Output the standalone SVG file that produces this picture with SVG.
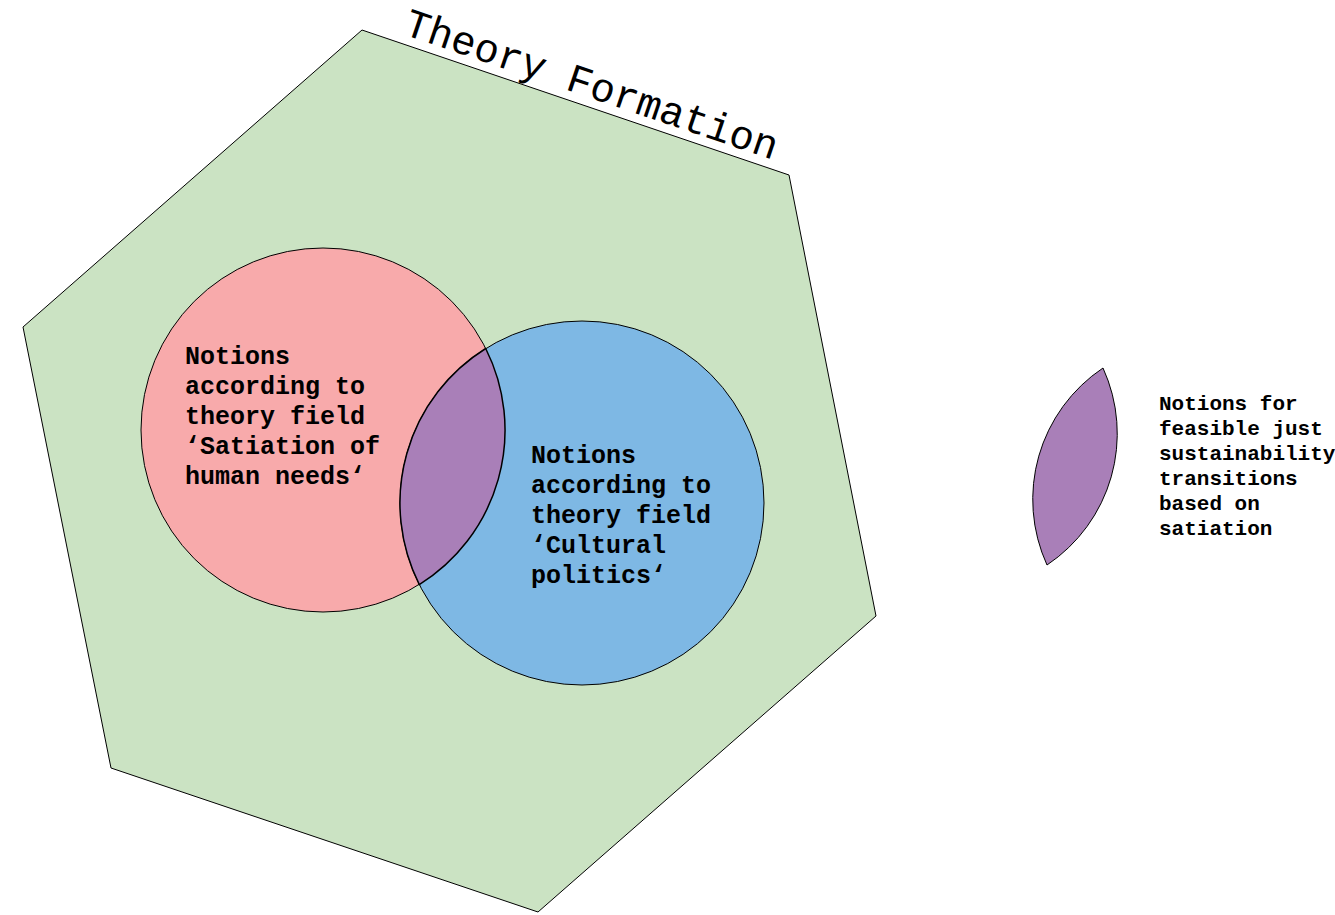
<svg xmlns="http://www.w3.org/2000/svg" width="1335" height="915" viewBox="0 0 1335 915">
<style>
.sh{stroke:#000;stroke-width:1}
.t{font-family:"Liberation Mono","Courier New",monospace;font-weight:bold;fill:#000}
</style>
<rect width="1335" height="915" fill="#fff"/>
<g id="theory-formation">
<polygon class="sh" fill="#CBE3C3" points="362,30 789,175 876,616 538,912 111,768 23,327"/>
<text x="402" y="34" font-family="Liberation Mono,Courier New,monospace" font-size="40.8" fill="#000" transform="rotate(18.75 402 34)">Theory Formation</text>
</g>
<g id="satiation">
<circle class="sh" cx="323" cy="430" r="182" fill="#F8AAAB"/>
</g>
<g id="cultural">
<circle class="sh" cx="582" cy="503" r="182" fill="#7EB8E4"/>
</g>
<g id="intersection">
<path d="M485.7,348.5 A182,182 0 0 1 419.3,584.6 A182,182 0 0 1 485.7,348.5 Z" fill="#A97FB8" stroke="#000" stroke-width="1.5"/>
</g>
<g id="labels" class="t" font-size="25">
<text class="t" x="185" y="364">Notions</text>
<text class="t" x="185" y="394">according to</text>
<text class="t" x="185" y="424">theory field</text>
<text class="t" x="185" y="454">‘Satiation of</text>
<text class="t" x="185" y="484">human needs‘</text>
<text class="t" x="531" y="463">Notions</text>
<text class="t" x="531" y="493">according to</text>
<text class="t" x="531" y="523">theory field</text>
<text class="t" x="531" y="553">‘Cultural</text>
<text class="t" x="531" y="583">politics‘</text>
</g>
<g id="legend">
<path class="sh" d="M1103,368 A158,158 0 0 1 1047,565 A158,158 0 0 1 1103,368 Z" fill="#A97FB8"/>
<g class="t" font-size="21">
<text class="t" x="1159" y="410">Notions for</text>
<text class="t" x="1159" y="435">feasible just</text>
<text class="t" x="1159" y="460">sustainability</text>
<text class="t" x="1159" y="485">transitions</text>
<text class="t" x="1159" y="510">based on</text>
<text class="t" x="1159" y="535">satiation</text>
</g>
</g>
<g id="connectors"></g>
</svg>
